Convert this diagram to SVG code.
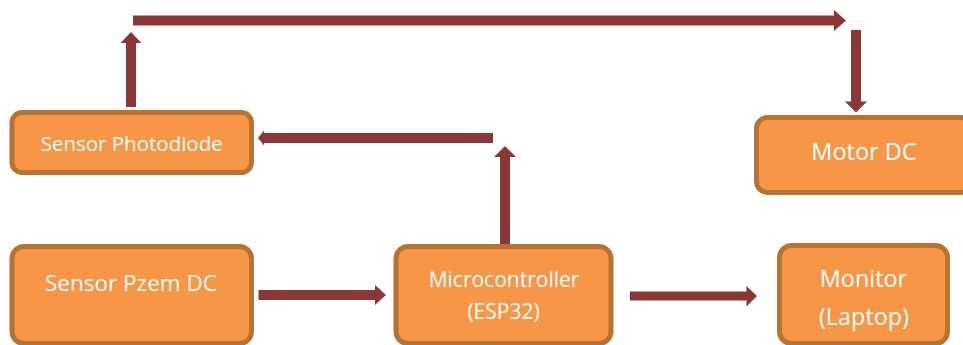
<svg xmlns="http://www.w3.org/2000/svg" width="963" height="345" viewBox="0 0 963 345">
  <style>
    .box { fill: #F79646; stroke: #B87333; stroke-width: 5; }
    .lbl { fill: #FFFFFF; font-family: "Open Sans", "Noto Sans", "Liberation Sans", sans-serif; text-anchor: middle; }
    .arr { fill: #8B3737; }
  </style>
  <rect width="963" height="345" fill="#FFFFFF"/>
  <g id="connectors">
    <polygon class="arr" points="133,15.5 834,15.5 834,10 846,20.5 834,31 834,25.5 133,25.5"/>
    <polygon class="arr" points="126,107 126,43 120.5,43 131,32 141.5,43 136,43 136,107"/>
    <polygon class="arr" points="851,30 861,30 861,101.5 867,101.5 856,112.5 845,101.5 851,101.5"/>
    <polygon class="arr" points="493,133 264,133 264,130.5 258,138 264,145.5 264,143 493,143"/>
    <polygon class="arr" points="500,246 500,157 494,157 505,146 516,157 510,157 510,246"/>
    <polygon class="arr" points="258.5,290 375,290 375,285 386,295 375,305 375,300 258.5,300"/>
    <polygon class="arr" points="630,291.5 746.5,291.5 746.5,286 757,296 746.5,306.5 746.5,300.5 630,300.5"/>
  </g>
  <g id="sensor-photodiode">
    <rect class="box" x="12" y="112.5" width="239.5" height="60" rx="10"/>
    <text class="lbl" x="131.7" y="150.7" font-size="20.5">Sensor Photodiode</text>
  </g>
  <g id="motor-dc">
    <rect class="box" x="756.5" y="117.5" width="215" height="75" rx="11"/>
    <text class="lbl" x="864" y="160" font-size="23.5">Motor DC</text>
  </g>
  <g id="sensor-pzem-dc">
    <rect class="box" x="12" y="246.5" width="239.5" height="97" rx="12"/>
    <text class="lbl" x="131" y="290.7" font-size="22.5">Sensor Pzem DC</text>
  </g>
  <g id="microcontroller">
    <rect class="box" x="396" y="246.5" width="215" height="97" rx="12"/>
    <text class="lbl" x="504" y="286.7" font-size="21">Microcontroller</text>
    <text class="lbl" x="503.5" y="318.5" font-size="21">(ESP32)</text>
  </g>
  <g id="monitor">
    <rect class="box" x="779.5" y="245.5" width="168" height="98" rx="12"/>
    <text class="lbl" x="863.5" y="287.3" font-size="23.4">Monitor</text>
    <text class="lbl" x="864" y="325" font-size="23.4">(Laptop)</text>
  </g>
</svg>
